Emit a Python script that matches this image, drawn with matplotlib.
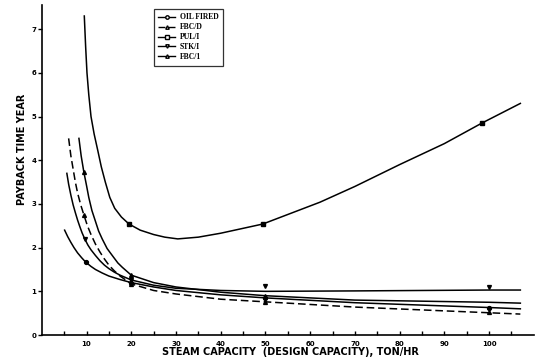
import matplotlib

matplotlib.use("Agg")

import matplotlib.pyplot as plt
import numpy as np

# curve shapes (capacity ton/hr, payback years)
pul_x = [9.5, 9.8, 10.1, 10.5, 11.0, 11.7, 12.5, 13.3, 14.2, 15.2, 16.3, 17.8, 19.5,
         22.0, 25.0, 27.5, 30.4, 35.0, 40.0, 49.4, 62.2, 70.0, 80.0, 90.0, 98.4, 107.0]
pul_y = [7.3, 6.6, 6.0, 5.5, 5.0, 4.6, 4.23, 3.85, 3.5, 3.15, 2.9, 2.7, 2.54,
         2.4, 2.3, 2.24, 2.2, 2.24, 2.33, 2.54, 3.04, 3.4, 3.9, 4.38, 4.85, 5.3]

oil_x = [5.1, 5.8, 6.5, 7.2, 8.0, 8.9, 9.8, 11.0, 12.0, 13.5, 15.0, 17.5, 20.0, 25.0,
         30.0, 40.0, 50.0, 70.0, 100.0, 107.0]
oil_y = [2.4, 2.25, 2.12, 2.0, 1.88, 1.77, 1.67, 1.57, 1.5, 1.42, 1.35, 1.27, 1.2, 1.1,
         1.02, 0.92, 0.85, 0.74, 0.63, 0.6]

stk_x = [5.6, 6.0, 6.5, 7.0, 7.5, 8.0, 8.5, 9.0, 9.6, 10.3, 11.0, 12.0, 13.0, 14.0, 15.0,
         16.2, 17.5, 20.0, 25.0, 30.0, 40.0, 50.0, 70.0, 100.0, 107.0]
stk_y = [3.7, 3.45, 3.2, 2.98, 2.8, 2.63, 2.48, 2.34, 2.2, 2.06, 1.95, 1.82, 1.7, 1.6, 1.52,
         1.44, 1.37, 1.26, 1.14, 1.07, 1.02, 1.0, 1.01, 1.03, 1.03]

fbcd_x = [6.0, 6.5, 7.0, 7.5, 8.0, 8.7, 9.4, 10.2, 11.0, 12.0, 13.0, 14.0, 15.0, 16.2,
          17.5, 20.0, 25.0, 30.0, 40.0, 50.0, 70.0, 100.0, 107.0]
fbcd_y = [4.5, 4.1, 3.8, 3.5, 3.25, 2.98, 2.75, 2.5, 2.3, 2.08, 1.9, 1.74, 1.6, 1.47,
          1.35, 1.17, 1.02, 0.94, 0.82, 0.76, 0.64, 0.51, 0.48]

fbc1_x = [8.3, 8.8, 9.4, 10.0, 10.5, 11.2, 12.0, 12.7, 13.5, 14.6, 15.9, 17.0, 18.0,
          20.0, 25.0, 30.0, 40.0, 50.0, 70.0, 100.0, 107.0]
fbc1_y = [4.5, 4.1, 3.73, 3.42, 3.15, 2.85, 2.6, 2.38, 2.2, 1.98, 1.8, 1.65, 1.55,
          1.37, 1.2, 1.1, 0.98, 0.9, 0.8, 0.75, 0.73]

# plotted data points (markers)
pul_mx, pul_my = [19.5, 49.4, 98.4], [2.54, 2.54, 4.85]
oil_mx, oil_my = [9.8, 20.0, 50.0, 100.0], [1.67, 1.2, 0.85, 0.63]
stk_mx, stk_my = [9.6, 20.0, 50.0, 100.0], [2.2, 1.26, 1.12, 1.1]
fbcd_mx, fbcd_my = [9.4, 20.0, 50.0, 100.0], [2.75, 1.17, 0.76, 0.53]
fbc1_mx, fbc1_my = [9.4, 20.0, 50.0], [3.73, 1.37, 0.89]

labels = ["OIL FIRED", "FBC/D", "PUL/I", "STK/I", "FBC/1"]
x_ticks = [10, 20, 30, 40, 50, 60, 70, 80, 90, 100]
y_ticks = [0, 1, 2, 3, 4, 5, 6, 7]

fig = plt.figure(figsize=(5.43, 3.63), dpi=100)
ax = fig.add_axes([0.077, 0.077, 0.906, 0.909])

series = [
    (oil_x, oil_y, oil_mx, oil_my, "o", "-"),
    (fbcd_x, fbcd_y, fbcd_mx, fbcd_my, "^", (0, (5, 2.5))),
    (pul_x, pul_y, pul_mx, pul_my, "s", "-"),
    (stk_x, stk_y, stk_mx, stk_my, "v", "-"),
    (fbc1_x, fbc1_y, fbc1_mx, fbc1_my, "^", "-"),
]
handles = []
for (cx, cy, mx, my, mk, ls), lab in zip(series, labels):
    ax.plot(cx, cy, color="black", linestyle=ls, linewidth=1.1)
    ax.plot(mx, my, linestyle="none", marker=mk, markersize=2.8,
            color="black", markerfacecolor="black")
    h, = ax.plot([], [], color="black", linestyle=ls, linewidth=1.0,
                 marker=mk, markersize=2.5, markerfacecolor="white")
    handles.append(h)

ax.set_xlim(0, 110)
ax.set_ylim(0, 7.55)
ax.spines["top"].set_visible(False)
ax.spines["right"].set_visible(False)
ax.spines["left"].set_linewidth(1.2)
ax.spines["bottom"].set_linewidth(1.2)

ax.set_xticks(x_ticks)
ax.set_xticks(np.arange(5, 110, 5), minor=True)
ax.set_yticks(y_ticks)
ax.tick_params(axis="x", which="both", direction="in", length=3, width=1, labelsize=5, pad=4)
ax.tick_params(axis="y", direction="out", length=3, width=1, labelsize=5, pad=1)
for t in ax.get_xticklabels() + ax.get_yticklabels():
    t.set_fontweight("bold")

fig.text(0.04, 0.59, "PAYBACK TIME YEAR", rotation=90, ha="center", va="center",
         fontsize=7, fontweight="bold")
fig.text(0.535, 0.03, "STEAM CAPACITY  (DESIGN CAPACITY), TON/HR", ha="center",
         va="center", fontsize=7, fontweight="bold")

leg = ax.legend(handles, labels, loc="upper left",
                bbox_to_anchor=(150 / 543, 1 - 5 / 363), bbox_transform=fig.transFigure,
                frameon=True, fancybox=False, handlelength=2.2,
                labelspacing=0.25, borderpad=0.6, handletextpad=0.6,
                prop={"family": "Liberation Serif", "weight": "bold", "size": 5.5})
leg.get_frame().set_edgecolor("black")
leg.get_frame().set_linewidth(0.9)

fig.savefig("out.png", dpi=100)
